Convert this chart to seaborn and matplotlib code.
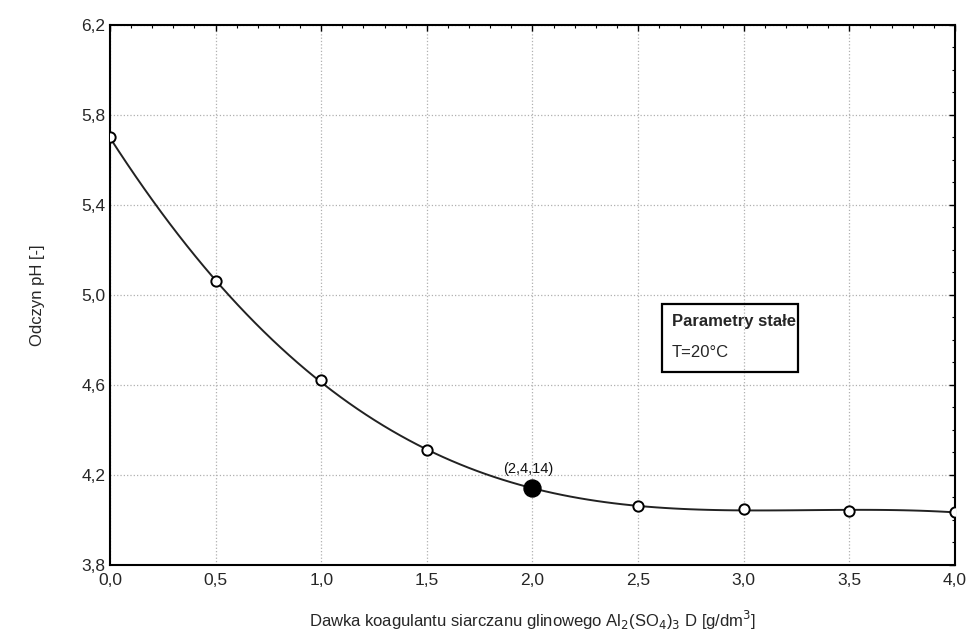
import numpy as np
import pandas as pd
import seaborn as sns
import matplotlib.pyplot as plt
from matplotlib.ticker import MultipleLocator, FuncFormatter
from matplotlib.patches import Rectangle

# Dane
dawka = [0.0, 0.5, 1.0, 1.5, 2.0, 2.5, 3.0, 3.5, 4.0]
odczyn_ph = [5.70, 5.06, 4.62, 4.31, 4.14, 4.06, 4.05, 4.04, 4.035]
punkt_x = [2.0]
punkt_y = [4.14]
etykieta_punktu = "(2,4,14)"
x_ticks = [0.0, 0.5, 1.0, 1.5, 2.0, 2.5, 3.0, 3.5, 4.0]
y_ticks = [3.8, 4.2, 4.6, 5.0, 5.4, 5.8, 6.2]

df = pd.DataFrame({"dawka": dawka, "ph": odczyn_ph})
df_otwarte = df[df["dawka"] != punkt_x[0]]

sns.set_style("white")
plt.rcParams['font.family'] = ['Liberation Sans', 'DejaVu Sans']

fig = plt.figure(figsize = (9.7, 6.4), dpi = 100)
ax = fig.add_axes([0.1134, 0.1172, 0.8711, 0.84375])

# Krzywa dopasowana
sns.regplot(data = df, x = "dawka", y = "ph", order = 5, ci = None, scatter = False,
            line_kws = dict(color = '#222222', linewidth = 1.4), ax = ax)

# Punkty pomiarowe
sns.scatterplot(data = df_otwarte, x = "dawka", y = "ph", marker = 'o', s = 55,
                facecolor = 'white', edgecolor = 'black', linewidth = 1.4, zorder = 3, ax = ax)
sns.scatterplot(x = punkt_x, y = punkt_y, marker = 'o', s = 150, color = 'black',
                edgecolor = 'black', zorder = 4, ax = ax)
ax.annotate(etykieta_punktu, (punkt_x[0], punkt_y[0]), xytext = (-3, 14),
            textcoords = 'offset points', ha = 'center', va = 'center', fontsize = 10.5,
            color = '#111111')

ax.set_xlim(0, 4)
ax.set_ylim(3.8, 6.2)
ax.set_xticks(x_ticks)
ax.set_yticks(y_ticks)
ax.xaxis.set_minor_locator(MultipleLocator(0.1))
ax.yaxis.set_minor_locator(MultipleLocator(0.1))
fmt = FuncFormatter(lambda v, p: f"{v:.1f}".replace('.', ','))
ax.xaxis.set_major_formatter(fmt)
ax.yaxis.set_major_formatter(fmt)
ax.tick_params(which = 'both', direction = 'in', top = True, right = True, labelsize = 12.5, color = 'black')
ax.tick_params(which = 'major', length = 4, width = 1)
ax.tick_params(which = 'minor', length = 2.5, width = 0.8)
ax.tick_params(axis = 'x', pad = 6)

ax.grid(True, which = 'major', linestyle = ':', color = '#b0b0b0', linewidth = 0.9)
for s in ax.spines.values():
    s.set_color('black')
    s.set_linewidth(1.5)

ax.set_xlabel("Dawka koagulantu siarczanu glinowego Al$_2$(SO$_4$)$_3$ D [g/dm$^3$]", fontsize = 12, labelpad = 15)
ax.set_ylabel("Odczyn pH [-]", fontsize = 12, labelpad = 26)

# Ramka z parametrami stałymi
ax.add_patch(Rectangle((2.613, 4.658), 0.644, 0.302, fill = False, edgecolor = 'black',
                       linewidth = 1.6, zorder = 5))
ax.text(2.66, 4.88, "Parametry stałe", fontsize = 12, fontweight = 'bold', va = 'center', zorder = 6)
ax.text(2.66, 4.745, "T=20°C", fontsize = 12, va = 'center', zorder = 6)

fig.savefig("out.png", dpi = 100)
